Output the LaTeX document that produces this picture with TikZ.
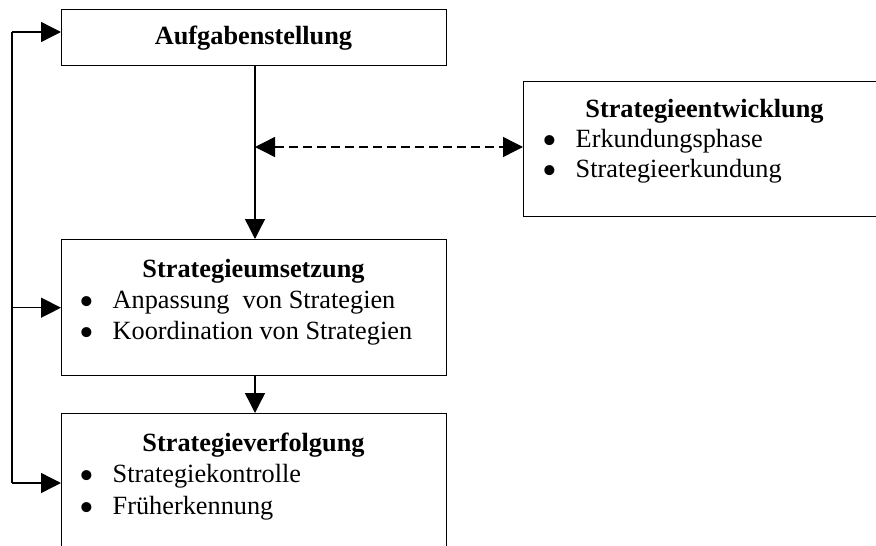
\documentclass[tikz,border=0pt]{standalone}
\usepackage{fontspec}
\setmainfont{Liberation Serif}
\usetikzlibrary{arrows.meta}

% enlarged bullet followed by the hanging indent of a list item
\newcommand\itembullet{\makebox[38pt][l]{\makebox[24pt][c]{\smash{\raisebox{-7pt}{\fontsize{42}{42}\selectfont •}}}}}

\begin{document}
\begin{tikzpicture}[x=1pt,y=-1pt,
  line width=1.4pt,
  box/.style={draw,rectangle,anchor=north west,inner sep=0pt},
  txt/.style={inner sep=0pt,font=\fontsize{26.3}{30}\selectfont},
  head/.style={txt,anchor=base,font=\fontsize{26.3}{30}\selectfont\bfseries},
  item/.style={txt,anchor=base west},
  arr/.style={-{Triangle[length=20pt,width=20pt]}},
  dasharr/.style={{Triangle[length=20pt,width=20pt]}-{Triangle[length=20pt,width=20pt]},dash pattern=on 9pt off 5pt}
]
\useasboundingbox (0,0) rectangle (876,546);
\clip (0,0) rectangle (876,546);

% boxes
\node[box,minimum width=385pt,minimum height=56pt]  (auf) at (61,9) {};
\node[box,minimum width=385pt,minimum height=136pt] (ums) at (61,239) {};
\node[box,minimum width=385pt,minimum height=140pt] (ver) at (61,413) {};
\node[box,minimum width=363pt,minimum height=135pt] (ent) at (523,81) {};

% box contents
\node[head] (aufT) at (253.5,45) {Aufgabenstellung};

\node[head] (entT) at (704.5,117) {Strategieentwicklung};
\node[item] (entI1) at (537,147) {\itembullet Erkundungsphase};
\node[item] (entI2) at (537,177) {\itembullet Strategieerkundung};

\node[head] (umsT) at (253.5,277) {Strategieumsetzung};
\node[item] (umsI1) at (74,308) {\itembullet Anpassung\ \ von Strategien};
\node[item] (umsI2) at (74,339) {\itembullet Koordination von Strategien};

\node[head] (verT) at (253.5,451) {Strategieverfolgung};
\node[item] (verI1) at (74,482) {\itembullet Strategiekontrolle};
\node[item] (verI2) at (74,514) {\itembullet Früherkennung};

% connectors
\coordinate (mid) at (255,0);
\coordinate (fb1) at (12,32);
\coordinate (fb3) at (12,483);
\coordinate (da)  at (255,147);

\draw[arr] (auf.south -| mid) -- (ums.north -| mid);
\draw[arr] (ums.south -| mid) -- (ver.north -| mid);
\draw[dasharr] (da) -- (da -| ent.west);

\draw (fb1) -- (fb3);
\draw[arr] (fb1) -- (fb1 -| auf.west);
\draw[arr] (fb1 |- ums.west) -- (ums.west);
\draw[arr] (fb3) -- (fb3 -| ver.west);
\end{tikzpicture}
\end{document}
